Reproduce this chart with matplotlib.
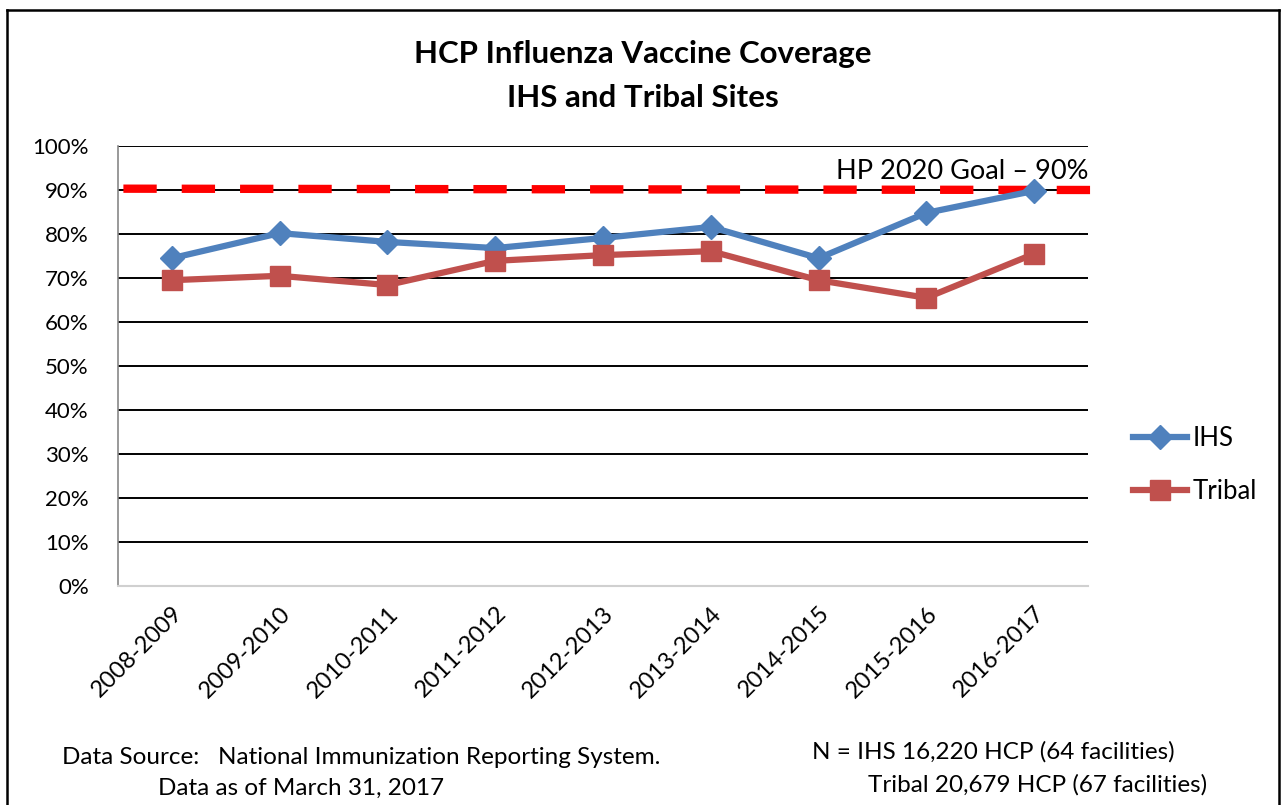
import matplotlib.pyplot as plt
from matplotlib.lines import Line2D

# Données
seasons = ['2008-2009', '2009-2010', '2010-2011', '2011-2012', '2012-2013',
           '2013-2014', '2014-2015', '2015-2016', '2016-2017']
ihs = [74.5, 80.2, 78.2, 76.8, 79.1, 81.6, 74.5, 84.8, 89.8]
tribal = [69.5, 70.5, 68.4, 73.9, 75.2, 76.1, 69.5, 65.5, 75.5]
goal = 90
y_ticks = list(range(0, 101, 10))

plt.rcParams['font.family'] = ['Lato', 'DejaVu Sans']

fig = plt.figure(figsize=(12.82, 8.05), dpi=100)
ax = fig.add_axes([118 / 1282, 1 - 586 / 805, 970 / 1282, 440 / 805])

x = list(range(len(seasons)))

# Grille horizontale noire
for t in y_ticks[1:]:
    ax.axhline(t, color='black', lw=1.4, zorder=1)

# Objectif HP 2020 (déborde un peu à droite)
ax.plot([-0.45, 8.62], [goal + 0.3, goal], color='#FF0000', lw=6,
        dashes=(4, 3), zorder=2, clip_on=False)

ax.plot(x, ihs, color='#4F81BD', lw=4.5, marker='D', markersize=12,
        label='IHS', zorder=3, clip_on=False)
ax.plot(x, tribal, color='#C0504D', lw=4.5, marker='s', markersize=15,
        label='Tribal', zorder=3, clip_on=False)

ax.text(8.5, 94.3, 'HP 2020 Goal \u2013 90%', ha='right', va='center',
        fontsize=19.5)

ax.set_xlim(-0.5, 8.5)
ax.set_ylim(0, 100)
ax.set_yticks(y_ticks)
ax.set_yticklabels([f'{t}%' for t in y_ticks], fontsize=16)
ax.set_xticks(x)
ax.set_xticklabels(seasons, rotation=45, ha='right', rotation_mode='anchor',
                   fontsize=17)
ax.tick_params(axis='y', length=0, pad=21)
ax.tick_params(axis='x', length=0, pad=12)

for s in ['top', 'right']:
    ax.spines[s].set_visible(False)
ax.spines['left'].set_color('#888888')
ax.spines['bottom'].set_color('#D0D0D0')
ax.spines['left'].set_linewidth(1.2)
ax.spines['bottom'].set_linewidth(1.5)

leg = ax.legend(loc='center left', bbox_to_anchor=(1110 / 1282, 1 - 465 / 805),
                bbox_transform=fig.transFigure, frameon=False, fontsize=18.5,
                handlelength=2.1, handletextpad=0.2, labelspacing=1.1)

fig.text(643 / 1282, 1 - 54 / 805, 'HCP Influenza Vaccine Coverage',
         ha='center', va='center', fontsize=22.5, fontweight='bold')
fig.text(643 / 1282, 1 - 98 / 805, 'IHS and Tribal Sites',
         ha='center', va='center', fontsize=22.5, fontweight='bold')

fig.text(62 / 1282, 1 - 757 / 805, 'Data Source:   National Immunization Reporting System.',
         ha='left', va='center', fontsize=17.5)
fig.text(158 / 1282, 1 - 788 / 805, 'Data as of March 31, 2017',
         ha='left', va='center', fontsize=17.5)
fig.text(812 / 1282, 1 - 752 / 805, 'N = IHS 16,220 HCP (64 facilities)',
         ha='left', va='center', fontsize=17.5)
fig.text(868 / 1282, 1 - 785 / 805, 'Tribal 20,679 HCP (67 facilities)',
         ha='left', va='center', fontsize=17.5)

# Cadre extérieur
for xs, ys in [([7, 7], [10, 805]), ([7, 1279], [10, 10]), ([1279, 1279], [10, 805])]:
    fig.add_artist(Line2D([v / 1282 for v in xs], [1 - v / 805 for v in ys],
                          color='black', lw=1.8))

fig.savefig('out.png', dpi=100)
